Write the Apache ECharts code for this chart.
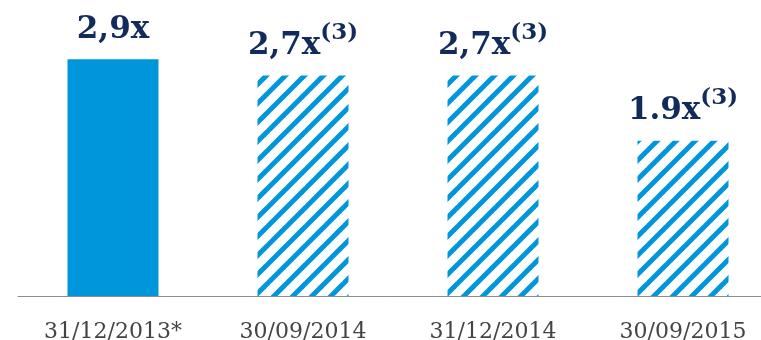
<!DOCTYPE html>
<html>
<head>
<meta charset="utf-8">
<script src="https://cdn.jsdelivr.net/npm/echarts@6/dist/echarts.min.js"></script>
<style>
  html, body { margin: 0; padding: 0; background: #fff; }
  #chart { width: 761px; height: 340px; }
</style>
</head>
<body>
<div id="chart"></div>
<script>
// Leverage ratio at each reporting date
const categories = ['31/12/2013*', '30/09/2014', '31/12/2014', '30/09/2015'];
const values = [2.9, 2.7, 2.7, 1.9];
const valueTexts = ['2,9x', '2,7x', '2,7x', '1.9x'];
const footnoteMarks = ['', '(3)', '(3)', '(3)'];

const BLUE = '#0096db';
const NAVY = '#132b5b';

// Diagonal stripe tile for the hatched bars
function stripeTile(size, lineW) {
  const c = document.createElement('canvas');
  c.width = size; c.height = size;
  const ctx = c.getContext('2d');
  ctx.fillStyle = '#fff';
  ctx.fillRect(0, 0, size, size);
  ctx.strokeStyle = BLUE;
  ctx.lineWidth = lineW;
  ctx.lineCap = 'square';
  for (const off of [-size, 0, size]) {
    ctx.beginPath();
    ctx.moveTo(off, size);
    ctx.lineTo(off + size, 0);
    ctx.stroke();
  }
  return c;
}
const hatch = { image: stripeTile(19, 5), repeat: 'repeat' };

const chart = echarts.init(document.getElementById('chart'), null, { renderer: 'canvas' });

chart.setOption({
  animation: false,
  grid: { left: 18, right: -17, top: 51, bottom: 44, outerBoundsMode: 'none' },
  xAxis: {
    type: 'category',
    data: categories,
    axisLine: { lineStyle: { color: '#8c8c8c', width: 1 } },
    axisTick: { show: false },
    axisLabel: {
      fontFamily: 'DejaVu Serif',
      fontSize: 22,
      color: '#444',
      margin: 25
    }
  },
  yAxis: {
    type: 'value',
    min: 0,
    max: 3,
    show: false,
    splitLine: { show: false }
  },
  series: [{
    type: 'bar',
    barWidth: 91,
    data: values.map((v, i) => ({
      value: v,
      itemStyle: { color: i === 0 ? BLUE : hatch }
    })),
    label: {
      show: true,
      position: 'top',
      distance: 14,
      formatter: p => {
        const t = '{v|' + valueTexts[p.dataIndex] + '}';
        const s = footnoteMarks[p.dataIndex];
        return s ? t + '{s|' + s + '}' : t;
      },
      rich: {
        v: {
          fontFamily: 'DejaVu Serif',
          fontWeight: 'bold',
          fontSize: 31,
          color: NAVY,
          lineHeight: 40,
          verticalAlign: 'bottom'
        },
        s: {
          fontFamily: 'DejaVu Serif',
          fontWeight: 'bold',
          fontSize: 23,
          color: NAVY,
          lineHeight: 24,
          verticalAlign: 'top'
        }
      }
    }
  }]
});
</script>
</body>
</html>
